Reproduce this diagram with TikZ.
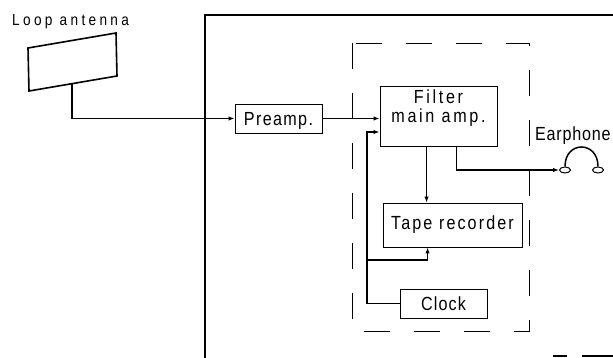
\documentclass[tikz,border=0pt]{standalone}
\usepackage{fontspec}
\setmainfont{Liberation Sans}
\newfontfamily\condfont[FakeStretch=0.85]{Liberation Sans}
\usetikzlibrary{arrows.meta,calc,shapes.geometric}
\begin{document}
\begin{tikzpicture}[x=1pt,y=-1pt,
  box/.style={draw,line width=0.9pt,inner sep=0pt,text height=14pt,text depth=0pt},
  wire/.style={line width=1.2pt},
  arr/.style={-{Latex[length=6pt,width=4.5pt]}},
  sp/.style={font=\condfont\fontsize{19}{19}\selectfont\addfontfeatures{LetterSpace=#1}},
  spsmall/.style={font=\condfont\fontsize{16}{17}\selectfont\addfontfeatures{LetterSpace=#1}},
  dashbox/.style={line width=0.9pt,dash pattern=on 26pt off 24pt},
  frame/.style={line width=1.8pt},
]
\useasboundingbox (0,0) rectangle (613,358);
% outer frame
\draw[frame] (613,15) -- (205,15) -- (205,358);
\draw[line width=1.2pt] (553,356) -- (567,356);
\draw[line width=1.2pt] (582,356) -- (613,356);
% inner dashed box
\draw[dashbox] (352,43) rectangle (529,331);
% antenna
\node[spsmall=21,anchor=base west,inner sep=0pt] (antlbl) at (12,26) {Loop antenna};
\draw[line width=1.6pt] (28,48) -- (116,33) -- (117,76) -- (29,91) -- cycle;
\coordinate (ant) at (72,83.7);
% blocks
\node[box,sp=7,minimum width=87pt,minimum height=29pt] (pre) at (278.5,118.5) {Preamp.};
\node[box,sp=14,align=center,minimum width=117pt,minimum height=60pt] (filt) at (438.5,116) {Filter\\main amp.};
\node[box,sp=11,text depth=5pt,minimum width=139pt,minimum height=44pt] (tape) at (452.5,225) {Tape recorder};
\node[box,sp=6,minimum width=87pt,minimum height=29pt] (clock) at (443.5,303.5) {Clock};
% earphone
\node[sp=4,anchor=base west,inner sep=0pt] (earlbl) at (535,141) {Earphone};
\node[draw,ellipse,line width=1pt,minimum width=11pt,minimum height=6pt,inner sep=0pt] (ear1) at (565,170) {};
\node[draw,ellipse,line width=1pt,minimum width=11pt,minimum height=6pt,inner sep=0pt] (ear2) at (598,170) {};
\draw[line width=1.5pt] (ear1.north) .. controls +(0,-26) and +(0,-26) .. (ear2.north);
% connectors
\draw[wire,arr] (ant) |- (pre.west);
\draw[wire,arr] (pre.east) -- (pre.east -| filt.west);
\coordinate (ftap) at ($(filt.south west)+(47,0)$);
\draw[wire,arr] (ftap) -- (ftap |- tape.north);
\coordinate (fear) at ($(filt.south west)+(77,0)$);
\draw[wire,arr] (fear) |- (ear1.west);
\coordinate (br) at (367,260);
\coordinate (fin) at ($(filt.west)+(0,16)$);
\draw[wire,arr] (clock.west) -| (br) |- (fin);
\coordinate (tin) at ($(tape.south west)+(45,0)$);
\draw[wire,arr] (br) -| (tin);
\end{tikzpicture}
\end{document}
